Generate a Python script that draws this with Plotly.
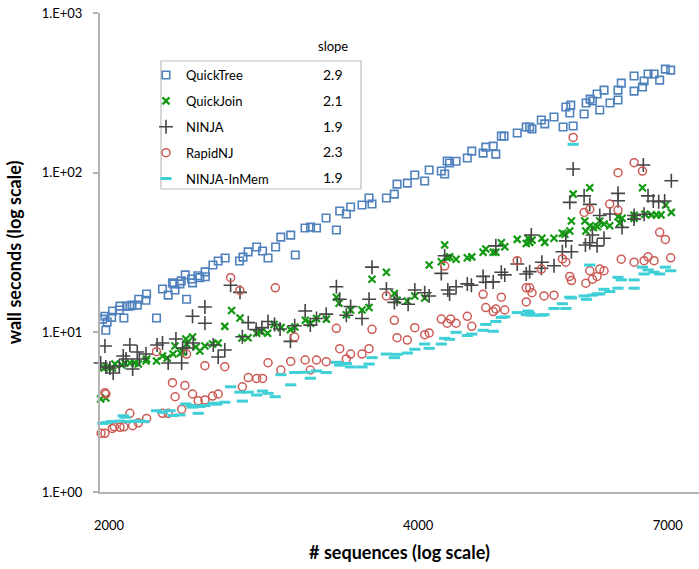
import plotly.graph_objects as go

# ---------------- data ----------------
qt_n = [1972, 1982, 1986, 1992, 2012, 2016, 2047, 2050, 2068, 2081, 2096, 2106, 2131, 2138, 2173, 2176,
        2225, 2255, 2284, 2306, 2313, 2319, 2345, 2352, 2373, 2380, 2407, 2412, 2441, 2452, 2481, 2482,
        2525, 2555, 2595, 2680, 2701, 2732, 2785, 2822, 2857, 2906, 2940, 3006, 3037, 3104, 3143, 3185,
        3254, 3330, 3355, 3405, 3438, 3527, 3583, 3607, 3725, 3792, 3815, 3904, 3970, 4059, 4100, 4213,
        4245, 4269, 4292, 4355, 4466, 4511, 4627, 4655, 4733, 4761, 4820, 4850, 4995, 5097, 5136, 5163,
        5272, 5313, 5424, 5536, 5570, 5632, 5619, 5662, 5803, 5829, 5881, 5912, 5974, 6010, 6068, 6150,
        6261, 6261, 6307, 6491, 6491, 6614, 6638, 6697, 6788, 6874, 6962, 7046]
qt_s = [12.1, 12.6, 10.3, 11.6, 12.4, 13.6, 13.8, 14.6, 12.3, 14.6, 14.6, 14.8, 14.8, 16.1, 15.9, 17.4,
        12.3, 18.7, 17.1, 20.4, 20.1, 18.4, 20.1, 21.0, 22.9, 16.1, 21.6, 20.4, 22.6, 22.0, 23.9, 22.3,
        26.4, 28.0, 29.2, 28.0, 29.6, 31.9, 34.2, 32.3, 29.2, 34.2, 39.5, 40.6, 30.5, 45.0, 45.6, 45.0,
        52.0, 43.7, 57.5, 55.1, 60.9, 62.7, 69.4, 63.6, 69.4, 73.4, 84.8, 86.0, 96.7, 88.6, 103.9, 102.4,
        98.1, 118.3, 115, 118, 123.5, 136.5, 132.6, 144.6, 146.7, 130.7, 169.5, 169.5, 177, 193, 193, 188,
        213.5, 202, 223, 193, 258, 265, 236.5, 196, 233, 273, 289, 281, 311, 247, 329, 273,
        285, 329, 364, 324, 403, 344, 375, 415, 415, 380, 445, 439]

qj_n = [1963, 1986, 1978, 1990, 2016, 2027, 2058, 2073, 2096, 2119, 2136, 2173, 2176, 2225, 2255, 2279,
        2309, 2319, 2348, 2362, 2376, 2380, 2412, 2430, 2452, 2480, 2523, 2555, 2593, 2633, 2683, 2695,
        2732, 2785, 2814, 2854, 2896, 2942, 3004, 3034, 3106, 3143, 3185, 3256, 3330, 3350, 3405, 3438,
        3527, 3583, 3607, 3725, 3792, 3815, 3904, 3970, 4059, 4100, 4213, 4245, 4269, 4292, 4355, 4466,
        4511, 4627, 4655, 4733, 4761, 4820, 4857, 4995, 5097, 5117, 5136, 5163, 5279, 5313, 5424, 5527,
        5557, 5619, 5640, 5662, 5877, 5812, 5825, 5881, 5925, 5979, 6010, 6068, 6146, 6261, 6285, 6318,
        6491, 6491, 6614, 6649, 6748, 6825, 6894, 6966, 7056]
qj_s = [3.82, 3.88, 5.98, 6.07, 5.98, 6.33, 6.25, 6.42, 6.42, 6.42, 6.33, 6.61, 6.81, 6.61, 7.11, 6.91,
        7.31, 8.21, 7.42, 7.53, 9.08, 8.45, 9.35, 8.09, 7.64, 8.21, 8.45, 8.57, 10.9, 13.7, 12.3, 9.21,
        9.25, 9.87, 10.1, 9.87, 11.2, 10.7, 10.4, 10.8, 11.9, 11.4, 12.2, 12.1, 16.6, 15.2, 12.9, 13.8,
        13.8, 14.3, 21.5, 23.8, 17.5, 15.9, 15.7, 16.9, 16.4, 26.4, 27.7, 35.2, 29.3, 29.7, 28.7, 29.3,
        29.7, 31.7, 33.3, 31.7, 31.7, 36.4, 34.4, 38.2, 36.0, 38.8, 36.6, 37.8, 38.8, 36.6, 38.8, 41.7,
        41.1, 43.1, 49.8, 73.4, 80.5, 49.8, 43.1, 46.5, 45.4, 45.8, 49.8, 47.7, 46.5, 53.0, 48.2, 51.8,
        54.1, 51.8, 80.5, 54.9, 54.4, 54.4, 54.4, 62.7, 56.4]

nj_n = [1963, 1982, 1986, 2004, 2019, 2047, 2065, 2078, 2096, 2109, 2131, 2141, 2173, 2228, 2255, 2284,
        2324, 2354, 2359, 2380, 2412, 2416, 2480, 2480, 2527, 2555, 2593, 2627, 2683, 2697, 2733, 2782,
        2818, 2857, 2899, 2935, 3004, 3033, 3105, 3141, 3185, 3255, 3330, 3355, 3405, 3438, 3527, 3583,
        3607, 3725, 3792, 3815, 3911, 3970, 4059, 4100, 4213, 4245, 4275, 4292, 4355, 4466, 4507, 4627,
        4655, 4733, 4761, 4820, 4857, 4995, 5097, 5136, 5155, 5279, 5272, 5424, 5527, 5570, 5640, 5619,
        5662, 5803, 5820, 5877, 5877, 5912, 5974, 6010, 6068, 6150, 6261, 6261, 6318, 6491, 6491, 6627,
        6638, 6697, 6777, 6859, 6951, 7056]
nj_s = [6.42, 8.21, 6.07, 5.98, 5.56, 6.16, 7.11, 6.81, 8.33, 5.89, 7.53, 6.81, 7.31, 8.33, 8.57, 6.42,
        9.08, 6.42, 7.98, 7.98, 12.6, 8.57, 14.4, 11.4, 8.33, 7.01, 7.75, 19.7, 17.8, 9.39, 11.5, 10.4,
        10.7, 11.7, 11.2, 10.5, 8.78, 11.0, 13.6, 11.1, 12.2, 13.0, 19.3, 16.1, 12.8, 14.5, 12.2, 16.1,
        25.6, 18.7, 15.4, 16.1, 15.0, 18.4, 17.7, 16.9, 23.4, 30.2, 18.4, 17.4, 19.3, 20.1, 19.7, 22.4,
        20.6, 20.7, 34.8, 23.8, 22.9, 26.8, 23.2, 24.0, 40.7, 27.5, 25.2, 26.1, 32.0, 37.4, 32.0, 65.2,
        105.4, 71.6, 35.2, 36.4, 63.3, 40.7, 34.8, 53.9, 38.8, 55.1, 74.2, 66.7, 45.4, 53.9, 51.2, 111.6,
        54.9, 71.6, 66.4, 65.7, 66.4, 89.0]

rn_n = [1965, 1982, 1982, 1986, 2015, 2024, 2050, 2068, 2096, 2109, 2136, 2176, 2225, 2255, 2284, 2306,
        2320, 2354, 2371, 2380, 2412, 2443, 2480, 2480, 2523, 2555, 2593, 2627, 2682, 2697, 2733, 2785,
        2822, 2857, 2904, 2940, 3006, 3033, 3105, 3141, 3185, 3255, 3330, 3355, 3405, 3438, 3527, 3583,
        3607, 3725, 3792, 3815, 3904, 3970, 4059, 4100, 4213, 4245, 4269, 4302, 4355, 4466, 4511, 4627,
        4655, 4733, 4761, 4820, 4857, 4995, 5097, 5097, 5136, 5163, 5272, 5304, 5424, 5527, 5570, 5619,
        5640, 5662, 5803, 5877, 5877, 5825, 5912, 5974, 6010, 6068, 6146, 6261, 6261, 6307, 6491, 6491,
        6614, 6638, 6697, 6788, 6874, 6962, 7046]
rn_s = [2.33, 2.33, 4.19, 4.11, 2.50, 2.56, 2.54, 2.56, 3.11, 2.60, 2.71, 2.89, 7.56, 3.11, 3.11, 4.84,
        3.95, 3.30, 4.65, 7.31, 4.11, 3.73, 3.77, 6.18, 3.99, 4.11, 6.09, 22.0, 18.3, 4.56, 5.21, 5.14,
        5.14, 6.45, 19.0, 5.81, 6.57, 9.35, 6.71, 5.81, 6.71, 6.55, 10.6, 7.90, 6.81, 7.31, 7.31, 7.90,
        10.45, 16.9, 11.9, 9.26, 8.95, 10.7, 9.67, 9.91, 12.1, 26.0, 11.4, 12.1, 11.4, 12.6, 10.9, 17.3,
        14.3, 13.5, 14.0, 16.6, 13.8, 28.1, 19.0, 15.5, 19.0, 17.7, 24.9, 16.9, 17.1, 28.8, 27.5, 22.4,
        21.1, 166.3, 56.4, 58.9, 24.3, 20.3, 21.5, 22.4, 24.9, 24.3, 63.6, 100.0, 58.3, 28.7, 27.5, 115.4,
        102.4, 28.1, 29.7, 28.1, 42.3, 38.2, 29.3]

im_n = [1972, 1990, 2012, 2047, 2065, 2073, 2093, 2119, 2144, 2163, 2225, 2255, 2293, 2309, 2345, 2376,
        2407, 2412, 2443, 2452, 2480, 2527, 2546, 2593, 2627, 2682, 2697, 2733, 2785, 2822, 2857, 2903,
        2941, 3006, 3033, 3105, 3141, 3185, 3255, 3330, 3355, 3405, 3438, 3527, 3583, 3607, 3725, 3792,
        3815, 3904, 3970, 4059, 4100, 4213, 4245, 4292, 4355, 4466, 4511, 4627, 4655, 4733, 4761, 4820,
        4857, 4995, 5097, 5117, 5136, 5163, 5272, 5304, 5424, 5527, 5570, 5619, 5640, 5662, 5803, 5832,
        5877, 5912, 5974, 6010, 6068, 6146, 6261, 6307, 6261, 6491, 6491, 6614, 6638, 6697, 6788, 6874,
        6962, 7046]
im_s = [2.69, 2.72, 2.76, 2.78, 3.00, 2.94, 2.76, 2.78, 2.78, 2.76, 3.23, 3.16, 3.23, 3.01, 3.04, 3.56,
        3.48, 3.40, 3.11, 3.43, 3.48, 3.60, 3.55, 3.65, 4.56, 4.22, 3.71, 4.22, 4.05, 4.29, 4.15, 3.95,
        5.43, 4.69, 5.60, 5.62, 5.16, 5.73, 5.60, 6.49, 6.23, 6.38, 6.07, 6.07, 6.33, 6.94, 7.31, 6.94,
        7.28, 7.42, 7.83, 8.45, 7.94, 8.45, 9.17, 9.04, 10.0, 9.55, 9.75, 10.3, 11.2, 10.15, 11.7, 12.4,
        12.5, 13.3, 12.9, 13.6, 13.2, 12.8, 12.8, 12.9, 14.1, 15.1, 14.1, 16.6, 16.4, 150.5, 16.9, 16.1,
        26.4, 17.1, 17.4, 17.4, 18.6, 18.0, 22.1, 21.3, 18.9, 21.3, 18.9, 25.6, 23.2, 24.6, 23.8, 23.2,
        25.6, 24.3]

series_names = ["QuickTree", "QuickJoin", "NINJA", "RapidNJ", "NINJA-InMem"]
slopes = ["2.9", "2.1", "1.9", "2.3", "1.9"]

x_tick_vals = [2000, 4000, 7000]
x_tick_text = ["2000", "4000", "7000"]
y_tick_vals = [1, 10, 100, 1000]
y_tick_text = ["1.E+00", "1.E+01", "1.E+02", "1.E+03"]

# ---------------- styling ----------------
FONT = "Lato, Carlito, 'Liberation Sans', sans-serif"
W, H = 699, 569
ML, MR, MT, MB = 100, 0, 13, 77
PW, PH = W - ML - MR, H - MT - MB

def px(xpix):
    return (xpix - ML) / PW

def py(ypix):
    return (H - MB - ypix) / PH

styles = [
    dict(symbol="square-open", size=7.5, color="#4f81bd", line=dict(width=1.6, color="#4f81bd")),
    dict(symbol="x-thin", size=7, color="#119911", line=dict(width=2.2, color="#119911")),
    dict(symbol="cross-thin", size=10, color="#454545", line=dict(width=1.6, color="#454545")),
    dict(symbol="circle-open", size=8, color="#cc5a55", line=dict(width=1.5, color="#cc5a55")),
    dict(symbol="line-ew", size=8, color="#3fcfd6", line=dict(width=3, color="#3fcfd6")),
]

data = [(qt_n, qt_s), (qj_n, qj_s), (nj_n, nj_s), (rn_n, rn_s), (im_n, im_s)]

fig = go.Figure()
for i, (name, (xs, ys), st) in enumerate(zip(series_names, data, styles)):
    fig.add_trace(go.Scatter(
        x=xs, y=ys, mode="markers", name=name, marker=st,
        legendgroup=f"g{i}", cliponaxis=False,
    ))

annotations = [dict(text="slope", x=px(333), y=py(46), xref="paper", yref="paper",
                    xanchor="center", yanchor="middle",
                    showarrow=False, font=dict(size=13, color="black", family=FONT))]
row_y = [74, 100, 126, 151.5, 177]
for s, ry in zip(slopes, row_y):
    annotations.append(dict(text=s, x=px(333), y=py(ry), xref="paper", yref="paper",
                            xanchor="center", yanchor="middle",
                            showarrow=False, font=dict(size=14, color="black", family=FONT)))

fig.update_layout(
    width=W, height=H,
    autosize=False,
    margin=dict(l=ML, r=MR, t=MT, b=MB, pad=0, autoexpand=False),
    paper_bgcolor="white", plot_bgcolor="white",
    font=dict(family=FONT, color="black", size=13),
    showlegend=True,
    legend=dict(
        x=px(146), y=py(60), xanchor="left", yanchor="top",
        bgcolor="rgba(0,0,0,0)", borderwidth=0,
        font=dict(size=13, color="black", family=FONT),
        traceorder="grouped", tracegroupgap=6, itemwidth=30,
    ),
    shapes=[dict(type="rect", xref="paper", yref="paper",
                 x0=px(161), x1=px(361), y0=py(189), y1=py(61),
                 line=dict(color="#bfbfbf", width=1.2), fillcolor="rgba(0,0,0,0)", layer="below")],
    annotations=annotations,
    xaxis=dict(
        type="log", range=[3.2923, 3.8755], automargin=False,
        tickvals=x_tick_vals, ticktext=x_tick_text, ticks="",
        showgrid=False, zeroline=False,
        showline=True, linecolor="#b3b3b3", linewidth=2,
        tickfont=dict(size=13, family=FONT, color="black"),
        ticklabelstandoff=20,
        title=dict(text="<b># sequences (log scale)</b>", standoff=15,
                   font=dict(size=18, family=FONT, color="black")),
    ),
    yaxis=dict(
        type="log", range=[0, 3], automargin=False,
        tickvals=y_tick_vals, ticktext=y_tick_text,
        ticks="outside", ticklen=5, tickcolor="#b3b3b3", tickwidth=1.5,
        showgrid=False, zeroline=False,
        showline=True, linecolor="#b3b3b3", linewidth=2,
        tickfont=dict(size=13, family=FONT, color="black"),
        ticklabelstandoff=8,
        title=dict(text="<b>wall seconds (log scale)</b>", standoff=15,
                   font=dict(size=18, family=FONT, color="black")),
    ),
)

fig.write_html("out.html", config={"displayModeBar": False},
               post_script="document.body.style.margin='0px';")
